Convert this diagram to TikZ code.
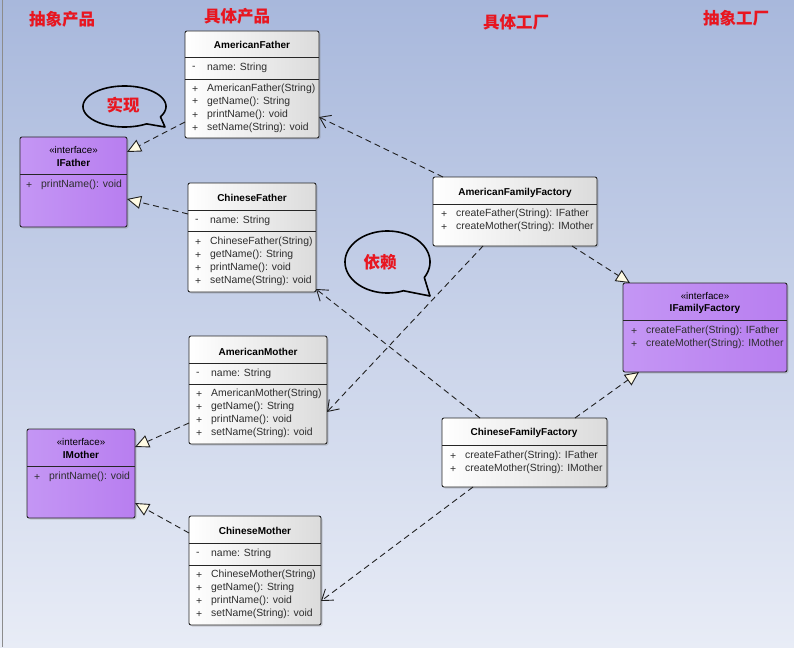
\documentclass[tikz,border=0pt]{standalone}
\usepackage{fontspec}
\setmainfont{Liberation Sans}
\newfontfamily\cjk{Noto Sans CJK SC}
\usetikzlibrary{arrows.meta,shadows,calc}
\definecolor{bgtop}{RGB}{168,184,220}
\definecolor{bgbot}{RGB}{232,236,246}
\definecolor{ifl}{RGB}{196,150,244}
\definecolor{ifm}{RGB}{226,202,251}
\definecolor{ifr}{RGB}{184,126,240}
\definecolor{titlered}{RGB}{232,22,32}
\definecolor{cream}{RGB}{255,251,228}
\definecolor{txt}{RGB}{45,45,45}
\tikzset{
  boxbase/.style={draw=black!85, line width=0.9pt, rounded corners=2pt, inner sep=0pt, outer sep=0pt,
    drop shadow={shadow xshift=1.5pt, shadow yshift=-1.5pt, opacity=0.3}},
  classbox/.style={boxbase, left color=white, right color=black!14},
  ifacebox/.style={boxbase, left color=ifl, middle color=ifm, right color=ifr},
  sepline/.style={draw=black!85, line width=0.8pt},
  mtxt/.style={anchor=west, inner sep=0pt, text=txt, font=\fontsize{10.4}{12}\selectfont},
  ttl/.style={inner sep=0pt, text=black, font=\fontsize{10}{12}\selectfont\bfseries},
  stereo/.style={inner sep=0pt, text=black, font=\fontsize{9.8}{11}\selectfont},
  cntitle/.style={inner sep=0pt, text=titlered, font=\cjk\fontsize{16.5}{18}\selectfont\bfseries},
  dashpat/.style={draw=black!88, line width=0.9pt, dash pattern=on 6pt off 4pt},
  realize/.style={dashpat, -{Triangle[length=14pt,width=13pt,fill=cream,line width=0.9pt]}},
  depend/.style={dashpat, -{Straight Barb[length=10pt,width=14pt,line width=0.9pt]}},
  callout/.style={draw=black, line width=1.6pt, line join=round}
}
\newcommand\cbox[6]{\node[#6, anchor=north west, minimum width={#4-#2}, minimum height={#5-#3}] (#1) at (#2,#3) {};}
\newcommand\sepl[2]{\path (0,#2) coordinate (#1tmp); \draw[sepline] (#1.west |- #1tmp) -- (#1.east |- #1tmp);}
\newcommand\mem[5]{\node[mtxt] (#1s) at ({#2+7},#3) {#4}; \node[mtxt] (#1) at ({#2+22},#3) {#5};}
\begin{document}
\begin{tikzpicture}[x=1pt,y=-1pt]
\fill[top color=bgtop, bottom color=bgbot] (0,0) rectangle (794,647);
\useasboundingbox (0,0) rectangle (794,647);
\draw[black!45, line width=1pt] (2,0) -- (2,647);

% headings
\node[cntitle] (h1) at (62,19) {抽象产品};
\node[cntitle] (h2) at (237,16) {具体产品};
\node[cntitle] (h3) at (516,22) {具体工厂};
\node[cntitle] (h4) at (736,18) {抽象工厂};

% AmericanFather
\cbox{AF}{185}{31}{319}{138}{classbox}
\node[ttl] (AFt) at (252,45) {AmericanFather};
\sepl{AF}{57} \sepl{AF}{79}
\mem{AFa}{185}{68}{-}{name: String}
\mem{AFm1}{185}{89}{+}{AmericanFather(String)}
\mem{AFm2}{185}{102}{+}{getName(): String}
\mem{AFm3}{185}{115}{+}{printName(): void}
\mem{AFm4}{185}{128}{+}{setName(String): void}

% IFather
\cbox{IF}{20}{137}{127}{227}{ifacebox}
\node[stereo] (IFs) at (73.5,150) {«interface»};
\node[ttl] (IFt) at (73.5,163) {IFather};
\sepl{IF}{174}
\mem{IFm1}{19}{185}{+}{printName(): void}

% ChineseFather
\cbox{CF}{188}{183}{316}{292}{classbox}
\node[ttl] (CFt) at (252,198) {ChineseFather};
\sepl{CF}{210} \sepl{CF}{231}
\mem{CFa}{188}{221}{-}{name: String}
\mem{CFm1}{188}{242}{+}{ChineseFather(String)}
\mem{CFm2}{188}{255}{+}{getName(): String}
\mem{CFm3}{188}{268}{+}{printName(): void}
\mem{CFm4}{188}{281}{+}{setName(String): void}

% AmericanMother
\cbox{AM}{189}{336}{327}{444}{classbox}
\node[ttl] (AMt) at (258,352) {AmericanMother};
\sepl{AM}{363} \sepl{AM}{384}
\mem{AMa}{189}{374}{-}{name: String}
\mem{AMm1}{189}{394}{+}{AmericanMother(String)}
\mem{AMm2}{189}{407}{+}{getName(): String}
\mem{AMm3}{189}{420}{+}{printName(): void}
\mem{AMm4}{189}{433}{+}{setName(String): void}

% IMother
\cbox{IM}{27}{429}{135}{518}{ifacebox}
\node[stereo] (IMs) at (81,442) {«interface»};
\node[ttl] (IMt) at (81,455) {IMother};
\sepl{IM}{466}
\mem{IMm1}{27}{477}{+}{printName(): void}

% ChineseMother
\cbox{CM}{189}{516}{321}{625}{classbox}
\node[ttl] (CMt) at (255,531) {ChineseMother};
\sepl{CM}{543} \sepl{CM}{565}
\mem{CMa}{189}{554}{-}{name: String}
\mem{CMm1}{189}{575}{+}{ChineseMother(String)}
\mem{CMm2}{189}{588}{+}{getName(): String}
\mem{CMm3}{189}{601}{+}{printName(): void}
\mem{CMm4}{189}{614}{+}{setName(String): void}

% AmericanFamilyFactory
\cbox{AFF}{433}{177}{597}{246}{classbox}
\node[ttl] (AFFt) at (515,193) {AmericanFamilyFactory};
\sepl{AFF}{204}
\mem{AFFm1}{434}{214}{+}{createFather(String): IFather}
\mem{AFFm2}{434}{227}{+}{createMother(String): IMother}

% IFamilyFactory
\cbox{IFF}{623}{283}{787}{372}{ifacebox}
\node[stereo] (IFFs) at (705,296) {«interface»};
\node[ttl] (IFFt) at (705,309) {IFamilyFactory};
\sepl{IFF}{320}
\mem{IFFm1}{624}{331}{+}{createFather(String): IFather}
\mem{IFFm2}{624}{344}{+}{createMother(String): IMother}

% ChineseFamilyFactory
\cbox{CFF}{442}{418}{607}{487}{classbox}
\node[ttl] (CFFt) at (524,433) {ChineseFamilyFactory};
\sepl{CFF}{445}
\mem{CFFm1}{443}{456}{+}{createFather(String): IFather}
\mem{CFFm2}{443}{469}{+}{createMother(String): IMother}

% connector end points
\coordinate (r1a) at (AF.west |- 0,122);  \coordinate (r1b) at (IF.east |- 0,152);
\coordinate (r2a) at (CF.west |- 0,214);  \coordinate (r2b) at (IF.east |- 0,199);
\coordinate (r3a) at (AM.west |- 0,423);  \coordinate (r3b) at (IM.east |- 0,447);
\coordinate (r4a) at (CM.west |- 0,533);  \coordinate (r4b) at (IM.east |- 0,503);
\coordinate (r5a) at (572,246);           \coordinate (r5b) at (630,283);
\coordinate (r6a) at (575,418);           \coordinate (r6b) at (639,372);
\coordinate (d1a) at (443,177);           \coordinate (d1b) at (319,117);
\coordinate (d2a) at (483,246);           \coordinate (d2b) at (327,412);
\coordinate (d3a) at (480,418);           \coordinate (d3b) at (316,289);
\coordinate (d4a) at (473,487);           \coordinate (d4b) at (321,601);

\draw[realize] (r1a) -- (r1b);
\draw[realize] (r2a) -- (r2b);
\draw[realize] (r3a) -- (r3b);
\draw[realize] (r4a) -- (r4b);
\draw[realize] (r5a) -- (r5b);
\draw[realize] (r6a) -- (r6b);
\draw[depend] (d1a) -- (d1b);
\draw[depend] (d2a) -- (d2b);
\draw[depend] (d3a) -- (d3b);
\draw[depend] (d4a) -- (d4b);

% callouts
\draw[callout] plot[domain=58:390, samples=90, variable=\t] ({124.5+41.5*cos(\t)},{106.5+20.5*sin(\t)}) -- (165,127) -- cycle;
\node[cntitle] (c1) at (123,105) {实现};
\draw[callout] plot[domain=68:390, samples=90, variable=\t] ({387.5+42.5*cos(\t)},{262+31*sin(\t)}) -- (430,296) -- cycle;
\node[cntitle] (c2) at (380,262) {依赖};
\end{tikzpicture}
\end{document}
